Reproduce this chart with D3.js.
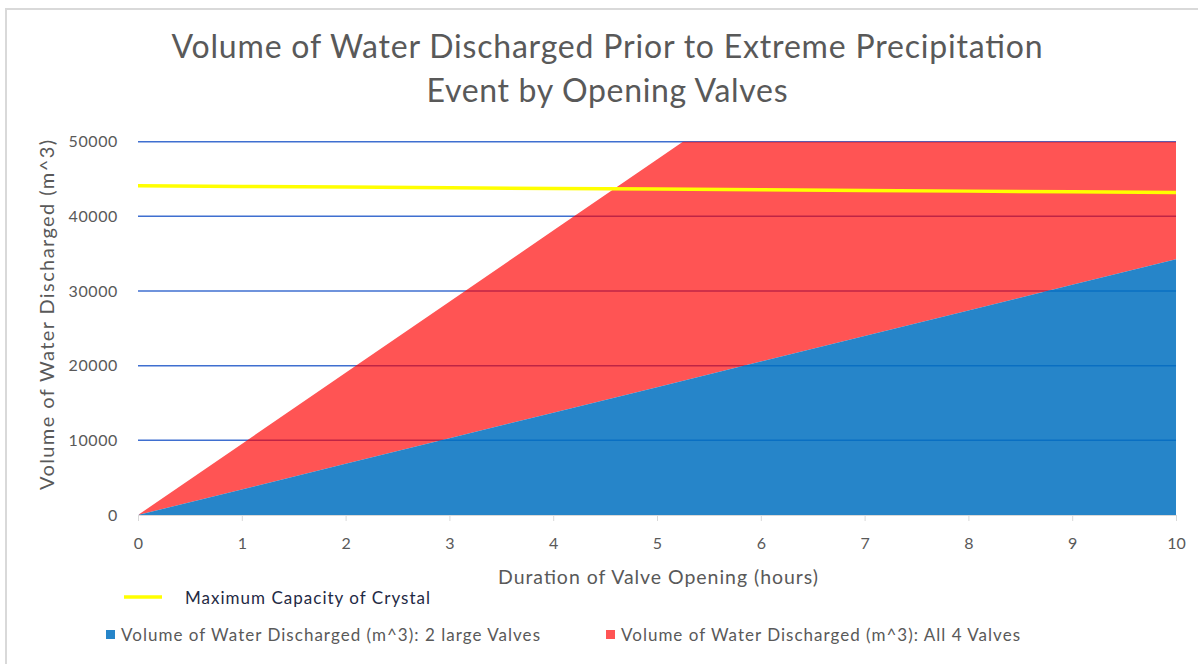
<!DOCTYPE html>
<html>
<head>
<meta charset="utf-8">
<script src="https://cdn.jsdelivr.net/npm/d3@7"></script>
<style>
  html, body { margin: 0; padding: 0; background: #fff; }
  svg { display: block; font-family: Lato, "Open Sans", sans-serif; }
</style>
</head>
<body>
<svg id="chart" width="1198" height="664"></svg>
<script>
// Hours of valve opening
const hours = [0, 1, 2, 3, 4, 5, 6, 7, 8, 9, 10];
// Volume discharged (m^3) with the two large valves open
const twoLargeValves = [0, 3425, 6850, 10275, 13700, 17125, 20550, 23975, 27400, 30825, 34250];
// Volume discharged (m^3) with all four valves open
const allFourValves = [0, 9524, 19048, 28571, 38095, 47619, 57143, 66667, 76190, 85714, 95238];
// Maximum capacity of Crystal reservoir (m^3)
const maxCapacity = [44100, 44010, 43920, 43830, 43740, 43650, 43560, 43470, 43380, 43290, 43200];
const yTicks = [0, 10000, 20000, 30000, 40000, 50000];
const xTicks = [0, 1, 2, 3, 4, 5, 6, 7, 8, 9, 10];

const titleLines = ["Volume of Water Discharged Prior to Extreme Precipitation", "Event by Opening Valves"];
const xTitle = "Duration of Valve Opening (hours)";
const yTitle = "Volume of Water Discharged (m^3)";
const legendLine = "Maximum Capacity of Crystal";
const legendBlue = "Volume of Water Discharged (m^3): 2 large Valves";
const legendRed = "Volume of Water Discharged (m^3): All 4 Valves";

const svg = d3.select("#chart");
const plot = { left: 138, right: 1176, top: 141.7, bottom: 515 };

const x = d3.scaleLinear().domain([0, 10]).range([plot.left, plot.right]);
const y = d3.scaleLinear().domain([0, 50000]).range([plot.bottom, plot.top]);

// outer frame
svg.append("rect").attr("x", 6).attr("y", 9).attr("width", 1200).attr("height", 700)
  .attr("fill", "none").attr("stroke", "#d9d9d9").attr("stroke-width", 2);

// title
const titleWidths = [871, 361];
svg.append("g").selectAll("text").data(titleLines).join("text")
  .attr("x", 607).attr("y", (d, i) => 58 + i * 44)
  .attr("text-anchor", "middle").attr("fill", "#595959")
  .attr("font-size", 32)
  .attr("textLength", (d, i) => titleWidths[i]).attr("lengthAdjust", "spacing")
  .text(d => d);

svg.append("defs").append("clipPath").attr("id", "plotClip")
  .append("rect").attr("x", plot.left).attr("y", plot.top)
  .attr("width", plot.right - plot.left).attr("height", plot.bottom - plot.top);

// gridlines
svg.append("g").selectAll("line").data(yTicks.filter(d => d > 0)).join("line")
  .attr("x1", plot.left).attr("x2", plot.right)
  .attr("y1", d => y(d)).attr("y2", d => y(d))
  .attr("stroke", "#3f6fd0").attr("stroke-width", 1.5);

const rows = hours.map((h, i) => ({ h, blue: twoLargeValves[i], red: allFourValves[i], cap: maxCapacity[i] }));

const areas = svg.append("g").attr("clip-path", "url(#plotClip)");
areas.append("path").datum(rows)
  .attr("d", d3.area().x(d => x(d.h)).y0(d => y(d.blue)).y1(d => y(d.red)))
  .attr("fill", "#ff0000").attr("fill-opacity", 0.67);
areas.append("path").datum(rows)
  .attr("d", d3.area().x(d => x(d.h)).y0(y(0)).y1(d => y(d.blue)))
  .attr("fill", "#0070c0").attr("fill-opacity", 0.85);

// x axis baseline and ticks
const xAxis = svg.append("g").attr("transform", `translate(0,${plot.bottom})`)
  .call(d3.axisBottom(x).tickValues(xTicks).tickSize(6).tickPadding(17).tickFormat(d3.format("d")));
xAxis.select(".domain").attr("stroke", "#d9d9d9").attr("stroke-width", 1);
xAxis.selectAll(".tick line").attr("stroke", "#d9d9d9");
xAxis.selectAll(".tick text").attr("fill", "#595959").attr("font-size", 16).attr("font-family", "Lato, sans-serif");

const yAxis = svg.append("g").attr("transform", `translate(${plot.left},0)`)
  .call(d3.axisLeft(y).tickValues(yTicks).tickSize(0).tickPadding(20).tickFormat(d3.format("d")));
yAxis.select(".domain").remove();
yAxis.selectAll(".tick text").attr("fill", "#595959").attr("font-size", 16)
  .attr("font-family", "Lato, sans-serif").attr("letter-spacing", 0.6);

// capacity line
svg.append("path").datum(rows)
  .attr("d", d3.line().x(d => x(d.h)).y(d => y(d.cap)))
  .attr("fill", "none").attr("stroke", "#ffff00").attr("stroke-width", 3.5);

// axis titles
svg.append("text").attr("x", 658).attr("y", 584).attr("text-anchor", "middle")
  .attr("fill", "#595959").attr("font-size", 19.5)
  .attr("textLength", 320).attr("lengthAdjust", "spacing").text(xTitle);
svg.append("text").attr("transform", "translate(54,315) rotate(-90)").attr("text-anchor", "middle")
  .attr("fill", "#595959").attr("font-size", 20)
  .attr("textLength", 350).attr("lengthAdjust", "spacing").text(yTitle);

// legend
const lg = svg.append("g");
lg.append("line").attr("x1", 124).attr("x2", 162).attr("y1", 597).attr("y2", 597)
  .attr("stroke", "#ffff00").attr("stroke-width", 3.5);
lg.append("text").attr("x", 185).attr("y", 603.5).attr("fill", "#1f2a44")
  .attr("font-size", 17).attr("textLength", 245).attr("lengthAdjust", "spacing").text(legendLine);
const boxes = [
  { x: 106, color: "#0070c0", op: 0.85, label: legendBlue, w: 419 },
  { x: 606, color: "#ff0000", op: 0.67, label: legendRed, w: 399 }
];
const items = lg.selectAll("g.item").data(boxes).join("g").attr("class", "item");
items.append("rect").attr("x", d => d.x).attr("y", 630).attr("width", 9).attr("height", 9)
  .attr("fill", d => d.color).attr("fill-opacity", d => d.op);
items.append("text").attr("x", d => d.x + 15).attr("y", 640.5).attr("fill", "#595959")
  .attr("font-size", 17).attr("textLength", d => d.w).attr("lengthAdjust", "spacing")
  .text(d => d.label);
</script>
</body>
</html>
